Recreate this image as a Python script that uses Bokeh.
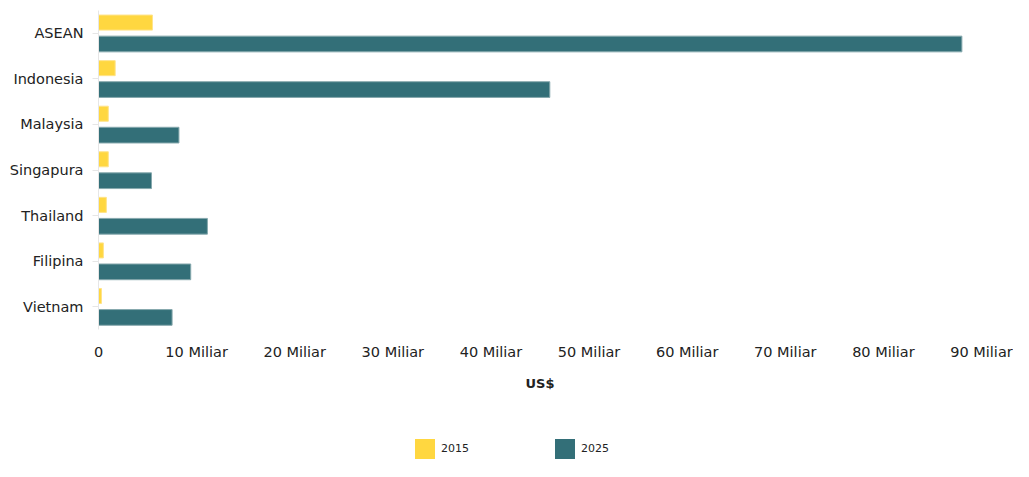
from bokeh.plotting import figure
from bokeh.layouts import column
from bokeh.models import ColumnDataSource, FactorRange, Range1d, FixedTicker, Legend, LegendItem
from bokeh.transform import dodge
from bokeh.embed import file_html
from bokeh.resources import INLINE

countries = ["ASEAN", "Indonesia", "Malaysia", "Singapura", "Thailand", "Filipina", "Vietnam"]
v2015 = [5.5, 1.7, 1.0, 1.0, 0.8, 0.5, 0.3]
v2025 = [88.0, 46.0, 8.2, 5.4, 11.1, 9.4, 7.5]
ticks = [0, 10, 20, 30, 40, 50, 60, 70, 80, 90]
tick_labels = ["0", "10 Miliar", "20 Miliar", "30 Miliar", "40 Miliar", "50 Miliar",
               "60 Miliar", "70 Miliar", "80 Miliar", "90 Miliar"]
series_names = ["2015", "2025"]
colors = ["#ffd740", "#336f78"]
edges = ["#ffe38a", "#86a8ad"]

FONT = "DejaVu Sans"
src = ColumnDataSource(dict(c=countries, a=v2015, b=v2025))

p = figure(width=1013, height=400, output_backend="svg", toolbar_location=None,
           y_range=FactorRange(*list(reversed(countries)), range_padding=0),
           x_range=Range1d(0, 90),
           min_border_left=98, min_border_right=32, min_border_top=10, min_border_bottom=71)
p.outline_line_color = None
p.grid.visible = False

p.hbar(y=dodge("c", 0.235, range=p.y_range), right="a", left=0, height=0.33, source=src,
       fill_color=colors[0], line_color=edges[0], line_width=1)
p.hbar(y=dodge("c", -0.235, range=p.y_range), right="b", left=0, height=0.345, source=src,
       fill_color=colors[1], line_color=edges[1], line_width=1)

# x axis
xa = p.xaxis[0]
xa.ticker = FixedTicker(ticks=ticks)
xa.major_label_overrides = {t: l for t, l in zip(ticks, tick_labels)}
xa.axis_line_color = None
xa.major_tick_line_color = None
xa.minor_tick_line_color = None
xa.major_label_text_font = FONT
xa.major_label_text_font_size = "14.5px"
xa.major_label_text_color = "#222222"
xa.major_label_standoff = 8
xa.axis_label = "US$"
xa.axis_label_text_font = FONT
xa.axis_label_text_font_size = "13px"
xa.axis_label_text_font_style = "bold"
xa.axis_label_text_color = "#222222"
xa.axis_label_standoff = 13

# y axis
ya = p.yaxis[0]
ya.axis_line_color = "#e6e6e6"
ya.major_tick_line_color = "#e6e6e6"
ya.major_tick_out = 6
ya.major_tick_in = 0
ya.major_label_text_font = FONT
ya.major_label_text_font_size = "14.5px"
ya.major_label_text_color = "#222222"
ya.major_label_standoff = 9

# legend strip: its renderers have zero height and lie outside the visible range,
# so only the legend entries are seen
q = figure(width=1013, height=61, output_backend="svg", toolbar_location=None,
           x_axis_type=None, y_axis_type=None,
           y_range=FactorRange(*countries), x_range=Range1d(-2, -1),
           min_border_left=0, min_border_right=0, min_border_top=0, min_border_bottom=0)
q.outline_line_color = None
q.grid.visible = False
l1 = q.hbar(y="c", right="a", left=0, height=0, source=src,
            fill_color=colors[0], line_color=None)
l2 = q.hbar(y="c", right="b", left=0, height=0, source=src,
            fill_color=colors[1], line_color=None)

legend = Legend(items=[LegendItem(label=series_names[0], renderers=[l1]),
                       LegendItem(label=series_names[1], renderers=[l2])],
                location=(314, 0), orientation="horizontal",
                glyph_width=25, glyph_height=25, label_standoff=4, label_width=85, spacing=26,
                padding=0, margin=0, border_line_color=None, background_fill_alpha=0,
                label_text_font=FONT, label_text_font_size="11px", label_text_color="#222222")
q.add_layout(legend, "center")

layout = column(p, q, spacing=0)
open("out.html", "w").write(file_html(layout, INLINE))
